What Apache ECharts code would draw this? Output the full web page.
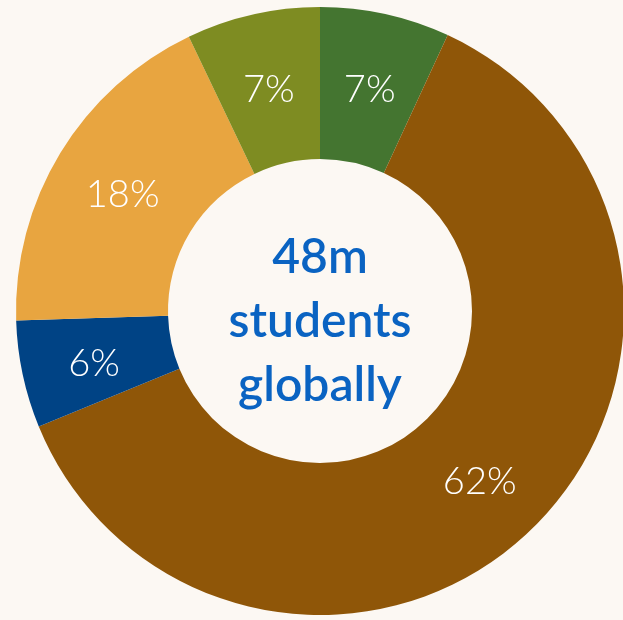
<!DOCTYPE html>
<html>
<head>
<meta charset="utf-8">
<script src="https://cdn.jsdelivr.net/npm/echarts@6/dist/echarts.min.js"></script>
<style>
html,body{margin:0;padding:0;background:#FCF8F3;}
#c{width:623px;height:620px;}
</style>
</head>
<body>
<div id="c"></div>
<script>
const categories = ['A', 'B', 'C', 'D', 'E'];
const values = [6.9, 61.9, 5.7, 18.4, 7.1];
const colors = ['#447530', '#8F5608', '#004385', '#E8A540', '#7E8C22'];
const centerLines = ['48m', 'students', 'globally'];

const chart = echarts.init(document.getElementById('c'));
chart.setOption({
  backgroundColor: '#FCF8F3',
  animation: false,
  series: [{
    type: 'pie',
    center: [320, 311],
    radius: [152, 304],
    startAngle: 90,
    clockwise: true,
    avoidLabelOverlap: false,
    data: categories.map((c, i) => ({ name: c, value: values[i], itemStyle: { color: colors[i] } })),
    itemStyle: { borderWidth: 0 },
    label: {
      show: true,
      position: 'inside',
      formatter: p => Math.round(p.value) + '%',
      color: '#FFFFFF',
      fontFamily: 'Lato',
      fontWeight: 300,
      fontSize: 38,
      offset: [0, 4]
    },
    labelLine: { show: false },
    emphasis: { disabled: true }
  }],
  graphic: [{
    type: 'text',
    x: 320,
    y: 322,
    style: {
      text: centerLines.join('\n'),
      align: 'center',
      verticalAlign: 'middle',
      fill: '#0A63C2',
      font: '600 48px Lato',
      lineHeight: 64
    }
  }]
});
</script>
</body>
</html>
